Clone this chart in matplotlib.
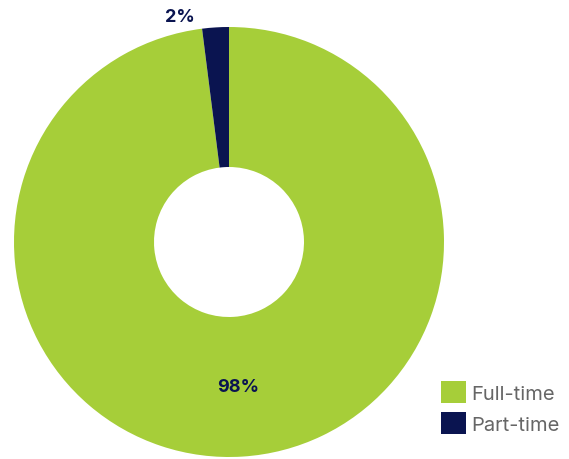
import matplotlib
matplotlib.use("Agg")
import matplotlib.pyplot as plt
from matplotlib.patches import Patch
import numpy as np

categories = ["Full-time", "Part-time"]
shares = [98, 2]
colors = ["#A6CE39", "#0A1450"]

plt.rcParams["font.family"] = ["Inter", "DejaVu Sans"]

W, H = 569, 460
fig = plt.figure(figsize=(W / 100, H / 100), dpi=100)
ax = fig.add_axes([0, 0, 1, 1])

cx, cy, R, r_in = 229, H - 243, 215, 75
ax.pie(
    shares, colors=colors, startangle=90, counterclock=False,
    center=(cx, cy), radius=R, wedgeprops=dict(width=R - r_in, linewidth=0),
    frame=True,
)
ax.set_xlim(0, W)
ax.set_ylim(0, H)
ax.set_aspect("equal")
ax.axis("off")

# percentage labels
mid_r = (R + r_in) / 2
theta_full = np.deg2rad(90 - shares[0] / sum(shares) * 360 / 2)
ax.text(cx + mid_r * np.cos(theta_full), cy + mid_r * np.sin(theta_full),
        f"{shares[0]}%", ha="center", va="center", fontsize=13,
        fontweight="bold", color=colors[1])
ax.text(cx - 49, H - 17, f"{shares[1]}%", ha="center", va="center",
        fontsize=13, fontweight="bold", color=colors[1])

handles = [Patch(facecolor=c, edgecolor="none") for c in colors]
ax.legend(handles, categories, loc="lower right", bbox_to_anchor=(1.0, 0.034),
          frameon=False, fontsize=14.5, labelcolor="#666666",
          handlelength=1.2, handleheight=1.3, handletextpad=0.3,
          labelspacing=0.45, borderaxespad=0.05)

fig.savefig("out.png", dpi=100)
